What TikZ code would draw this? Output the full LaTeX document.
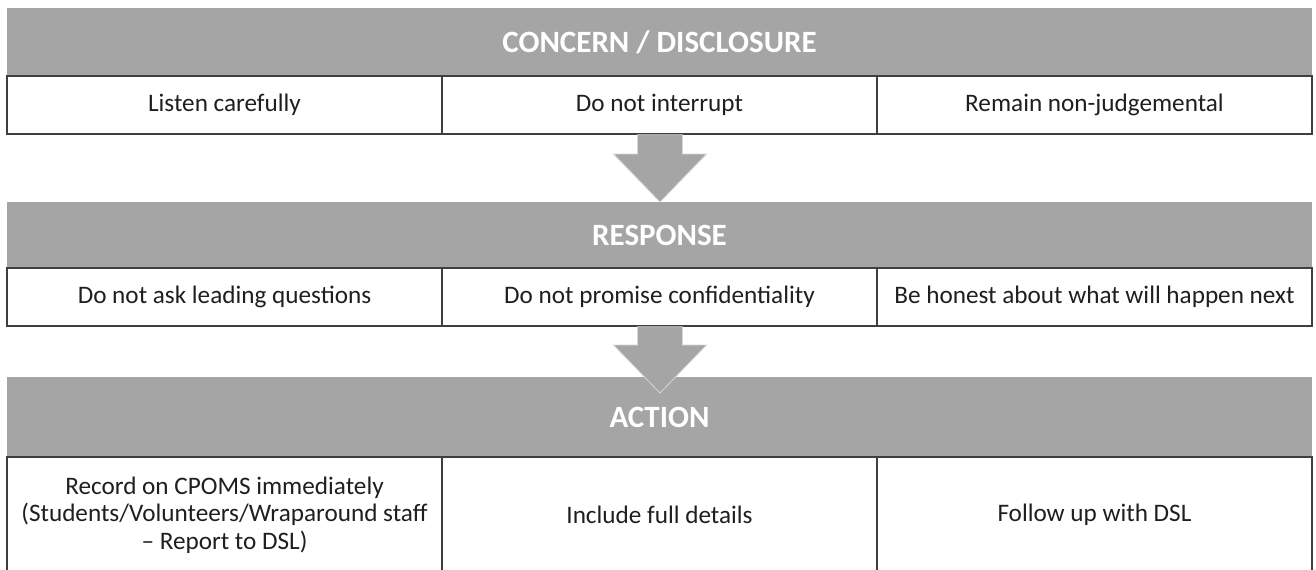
\documentclass[tikz,border=0pt]{standalone}
\usepackage{fontspec}
\setmainfont{Carlito}
\usetikzlibrary{positioning,calc}

\definecolor{bargray}{HTML}{A5A5A5}
\definecolor{linegray}{HTML}{3F3F3F}
\definecolor{textgray}{HTML}{1F1F1F}

\tikzset{
	header/.style={fill=bargray, draw=none, minimum width=652.5pt, inner sep=0pt, outer sep=0pt,
		text=white, font=\fontsize{15.5}{18}\selectfont\bfseries},
	cell/.style={draw=linegray, line width=0.75pt, fill=white, minimum width=217.5pt,
		inner sep=0pt, outer sep=0pt, text=textgray, align=center,
		font=\fontsize{12.6}{13.8}\selectfont},
	flow/.style={fill=bargray, draw=white!55!bargray, line width=0.4pt, line join=miter},
}

% block arrow from #1 (tail) down to #2 (tip)
\newcommand{\flowarrow}[2]{%
	\filldraw[flow] let \p1=(#1), \p2=(#2) in
		(\x1-11.25pt,\y1) -- (\x1+11.25pt,\y1) -- (\x1+11.25pt,\y2+24pt)
		-- (\x1+23.25pt,\y2+24pt) -- (\x1,\y2) -- (\x1-23.25pt,\y2+24pt)
		-- (\x1-11.25pt,\y2+24pt) -- cycle;}

\begin{document}
\begin{tikzpicture}
	\path[use as bounding box, fill=white] (0,0) rectangle (658pt,-284.5pt);
	\clip (0,0) rectangle (658pt,-284.5pt);

	% concern
	\node[header, minimum height=34pt, anchor=north west] (concern) at (3.5pt,-4pt) {CONCERN / DISCLOSURE};
	\node[cell, minimum height=29pt, below right=0pt of concern.south west] (listen) {Listen carefully};
	\node[cell, minimum height=29pt, right=0pt of listen] (interrupt) {Do not interrupt};
	\node[cell, minimum height=29pt, right=0pt of interrupt] (nonjudge) {Remain non-judgemental};

	% response
	\node[header, minimum height=33pt, below=34pt of interrupt] (response) {RESPONSE};
	\node[cell, minimum height=29pt, below right=0pt of response.south west] (leading) {Do not ask leading questions};
	\node[cell, minimum height=29pt, right=0pt of leading] (promise) {Do not promise confidentiality};
	\node[cell, minimum height=29pt, right=0pt of promise] (honest) {Be honest about what will happen next};

	% action
	\node[header, minimum height=40pt, below=25.5pt of promise] (action) {ACTION};
	\node[cell, minimum height=58pt, below right=0pt of action.south west] (record)
		{Record on CPOMS immediately\\(Students/Volunteers/Wraparound staff\\– Report to DSL)};
	\node[cell, minimum height=58pt, right=0pt of record] (details) {Include full details};
	\node[cell, minimum height=58pt, right=0pt of details] (followup) {Follow up with DSL};

	\flowarrow{$(interrupt.south)+(0.25pt,-0.4pt)$}{response.north}
	\flowarrow{$(promise.south)+(0.25pt,-0.4pt)$}{$(action.north)+(0,-8pt)$}
\end{tikzpicture}
\end{document}
